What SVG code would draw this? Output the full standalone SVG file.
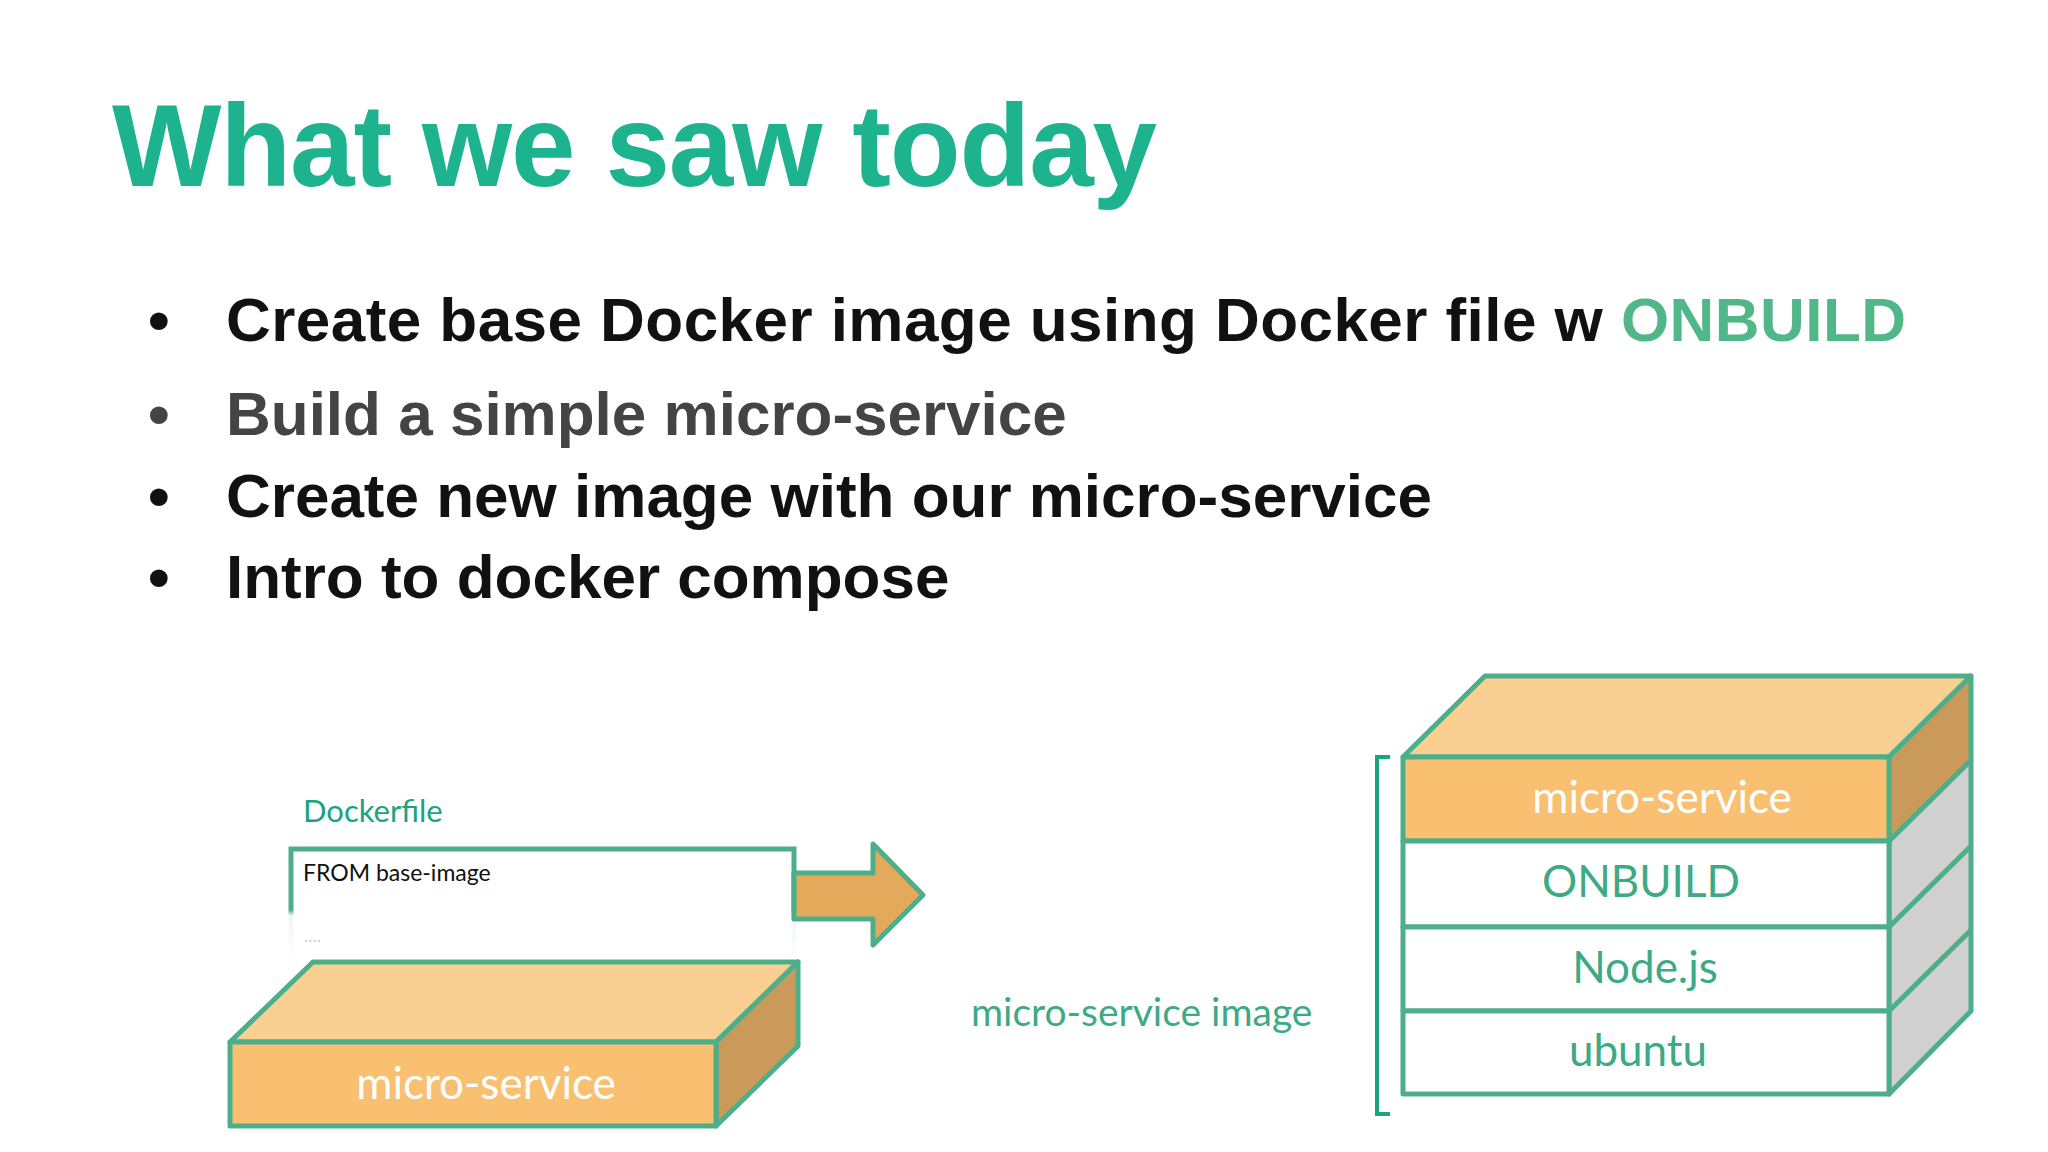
<svg xmlns="http://www.w3.org/2000/svg" width="2048" height="1152" viewBox="0 0 2048 1152">
<defs>
<linearGradient id="fade" x1="0" y1="0" x2="0" y2="1">
<stop offset="0" stop-color="#4caf8a" stop-opacity="1"/><stop offset="0.55" stop-color="#4caf8a" stop-opacity="1"/><stop offset="0.6" stop-color="#4caf8a" stop-opacity="0.1"/><stop offset="1" stop-color="#4caf8a" stop-opacity="0"/>
</linearGradient>
</defs>
<style>
.b{font-family:"Liberation Sans",Arial,sans-serif;font-weight:bold;font-size:62px;fill:#111}
.g{stroke:#4caf8a;stroke-width:5;stroke-linejoin:round}
.lbl{font-family:Lato,"Open Sans",sans-serif;font-size:44px;text-anchor:middle}
</style>
<rect width="2048" height="1152" fill="#fff"/>
<text x="112" y="186" font-family="Liberation Sans,Arial,sans-serif" font-weight="bold" font-size="116" fill="#1db38e" textLength="1045">What we saw today</text>
<g id="bullets">
<text class="b" x="148" y="341">•</text>
<text class="b" x="226" y="341" textLength="1680">Create base Docker image using Docker file w <tspan fill="#52b788">ONBUILD</tspan></text>
<text class="b" x="148" y="435" style="fill:#444">•</text>
<text class="b" x="226" y="435" style="fill:#444">Build a simple micro-service</text>
<text class="b" x="148" y="517">•</text>
<text class="b" x="226" y="517">Create new image with our micro-service</text>
<text class="b" x="148" y="598">•</text>
<text class="b" x="226" y="598">Intro to docker compose</text>
</g>
<g id="dockerfile">
<text x="303" y="822" font-family="Lato,'Open Sans',sans-serif" font-size="31" fill="#1aa37f">Dockerfile</text>
<path d="M291 960 V849 H794 V960" fill="none" stroke="url(#fade)" stroke-width="5"/>
<text x="303" y="881" font-family="Lato,'Open Sans',sans-serif" font-size="23" fill="#111">FROM base-image</text>
<text x="304" y="942" font-family="Lato,sans-serif" font-size="18" fill="#ccc">....</text>
</g>
<g id="connectors">
<polygon class="g" points="794,873 873,873 873,844 923,895 873,945 873,919 794,919" fill="#e2aa5a"/>
</g>
<g id="micro-service-box" transform="translate(-2,-4)">
<polygon class="g" points="232,1046 315,966 800,966 718,1046" fill="#f9cf92"/>
<polygon class="g" points="718,1046 800,966 800,1050 718,1130" fill="#c99a5a"/>
<rect class="g" x="232" y="1046" width="486" height="84" fill="#f8c070"/>
<text class="lbl" x="488" y="1103" fill="#fff">micro-service</text>
</g>
<text x="971" y="1026" font-family="Lato,'Open Sans',sans-serif" font-size="39" fill="#3daa85">micro-service image</text>
<path d="M1390 757 H1377 V1114 H1390" fill="none" stroke="#1aa37f" stroke-width="4"/>
<g id="image-stack" transform="translate(-8,-4)">
<polygon class="g" points="1411,761 1493,680 1979,680 1897,761" fill="#f9cf92"/>
<polygon class="g" points="1897,845 1979,764 1979,1015 1897,1098" fill="#d0d0d0"/>
<polygon class="g" points="1897,761 1979,680 1979,764 1897,845" fill="#c99a5a"/>
<line class="g" x1="1897" y1="931" x2="1979" y2="850"/>
<line class="g" x1="1897" y1="1015" x2="1979" y2="934"/>
<rect class="g" x="1411" y="761" width="486" height="84" fill="#f8c070"/>
<rect class="g" x="1411" y="845" width="486" height="86" fill="#fff"/>
<rect class="g" x="1411" y="931" width="486" height="84" fill="#fff"/>
<rect class="g" x="1411" y="1015" width="486" height="83" fill="#fff"/>
<text class="lbl" x="1670" y="817" fill="#fff">micro-service</text>
<text class="lbl" x="1649" y="901" fill="#3daa85">ONBUILD</text>
<text class="lbl" x="1653" y="987" fill="#3daa85">Node.js</text>
<text class="lbl" x="1646" y="1070" fill="#3daa85">ubuntu</text>
</g>
</svg>
